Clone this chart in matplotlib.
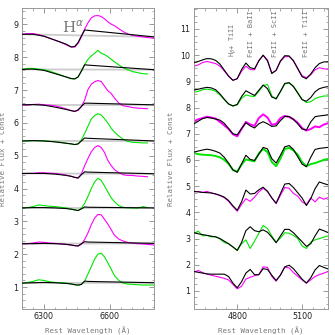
import numpy as np
import matplotlib
matplotlib.use("Agg")
import matplotlib.pyplot as plt
from matplotlib.ticker import MultipleLocator

## H-alpha panel (left): observed grid, model grid
ha_wave = [6200, 6225, 6250, 6275, 6300, 6325, 6350, 6375, 6400, 6420, 6440,
           6455, 6470, 6485, 6500, 6515, 6530, 6545, 6560, 6575, 6590, 6605,
           6620, 6640, 6660, 6680, 6700, 6725, 6750, 6770, 6800]
ha_model_wave = [6200, 6250, 6300, 6350, 6400, 6425, 6440, 6455, 6470, 6485, 6500, 6800]

# observed spectra, bottom -> top (shorter lists stop at 6770)
ha_obs = [
    [1.11, 1.14, 1.17, 1.22, 1.20, 1.16, 1.14, 1.13, 1.12, 1.10, 1.07, 1.05, 1.08, 1.18, 1.40, 1.62,
     1.85, 2.00, 2.03, 1.92, 1.74, 1.55, 1.35, 1.20, 1.12, 1.09, 1.08, 1.07, 1.06, 1.06, 1.06],
    [2.31, 2.32, 2.34, 2.37, 2.36, 2.34, 2.33, 2.32, 2.30, 2.28, 2.26, 2.25, 2.30, 2.45, 2.65, 2.90,
     3.10, 3.21, 3.20, 3.06, 2.92, 2.75, 2.58, 2.46, 2.40, 2.36, 2.34, 2.32, 2.31, 2.30, 2.28],
    [3.41, 3.42, 3.45, 3.50, 3.48, 3.46, 3.45, 3.43, 3.41, 3.38, 3.35, 3.33, 3.40, 3.55, 3.76, 4.00,
     4.20, 4.31, 4.25, 4.08, 3.90, 3.72, 3.60, 3.48, 3.43, 3.41, 3.41, 3.40, 3.45, 3.42],
    [4.45, 4.46, 4.46, 4.48, 4.48, 4.47, 4.46, 4.44, 4.41, 4.38, 4.34, 4.32, 4.45, 4.70, 4.92, 5.12,
     5.25, 5.31, 5.25, 5.10, 4.86, 4.70, 4.58, 4.48, 4.42, 4.40, 4.40, 4.38, 4.37, 4.36],
    [5.44, 5.45, 5.46, 5.46, 5.45, 5.44, 5.43, 5.41, 5.38, 5.36, 5.34, 5.36, 5.48, 5.68, 5.90, 6.12,
     6.22, 6.28, 6.24, 6.13, 6.00, 5.84, 5.72, 5.60, 5.50, 5.44, 5.41, 5.40, 5.39, 5.39],
    [6.55, 6.54, 6.56, 6.57, 6.55, 6.54, 6.52, 6.48, 6.43, 6.38, 6.35, 6.38, 6.50, 6.70, 7.02, 7.18,
     7.25, 7.29, 7.26, 7.12, 6.98, 6.90, 6.76, 6.60, 6.52, 6.50, 6.47, 6.45, 6.44, 6.43],
    [7.63, 7.66, 7.66, 7.64, 7.62, 7.58, 7.52, 7.46, 7.40, 7.35, 7.34, 7.40, 7.58, 7.78, 7.94, 8.04,
     8.12, 8.21, 8.12, 8.08, 8.02, 7.94, 7.86, 7.77, 7.68, 7.62, 7.57, 7.53, 7.50, 7.49],
    [8.70, 8.72, 8.72, 8.69, 8.64, 8.58, 8.52, 8.46, 8.38, 8.32, 8.31, 8.42, 8.62, 8.86, 9.05, 9.20,
     9.26, 9.27, 9.24, 9.17, 9.08, 9.01, 8.96, 8.87, 8.78, 8.71, 8.67, 8.64, 8.62, 8.60, 8.58],
]
ha_model = [
    [1.12, 1.13, 1.14, 1.13, 1.11, 1.09, 1.07, 1.06, 1.08, 1.18, 1.17, 1.13],
    [2.32, 2.32, 2.33, 2.32, 2.30, 2.28, 2.26, 2.25, 2.32, 2.38, 2.37, 2.33],
    [3.41, 3.42, 3.42, 3.41, 3.39, 3.37, 3.35, 3.33, 3.38, 3.44, 3.43, 3.41],
    [4.46, 4.46, 4.46, 4.44, 4.40, 4.37, 4.34, 4.32, 4.42, 4.51, 4.50, 4.45],
    [5.45, 5.46, 5.45, 5.42, 5.38, 5.36, 5.34, 5.36, 5.45, 5.54, 5.53, 5.45],
    [6.55, 6.56, 6.54, 6.48, 6.41, 6.37, 6.35, 6.40, 6.50, 6.60, 6.60, 6.55],
    [7.63, 7.64, 7.60, 7.50, 7.40, 7.35, 7.34, 7.40, 7.58, 7.77, 7.76, 7.62],
    [8.70, 8.70, 8.64, 8.52, 8.40, 8.31, 8.33, 8.45, 8.65, 8.83, 8.82, 8.62],
]

## H-beta / FeII panel (right), 20 A grid
hb_wave = list(range(4600, 5221, 20))
hb_obs = [
    [1.72, 1.78, 1.70, 1.64, 1.60, 1.56, 1.52, 1.48, 1.42, 1.25, 1.08, 1.18, 1.45, 1.52, 1.58, 1.62,
     1.92, 1.90, 1.55, 1.37, 1.62, 1.90, 1.88, 1.70, 1.56, 1.42, 1.30, 1.42, 1.55, 1.62, 1.68, 1.74],
    [3.20, 3.28, 3.10, 3.12, 3.06, 3.08, 2.98, 2.85, 2.80, 2.68, 2.54, 2.80, 2.95, 2.62, 2.90, 3.20,
     3.50, 3.38, 3.10, 2.86, 3.02, 3.22, 3.20, 3.12, 3.00, 2.72, 2.62, 2.86, 2.95, 3.00, 3.05, 3.10],
    [4.78, 4.80, 4.76, 4.80, 4.74, 4.70, 4.64, 4.56, 4.42, 4.22, 4.04, 4.30, 4.52, 4.42, 4.58, 4.78,
     4.92, 4.80, 4.55, 4.33, 4.65, 4.95, 4.92, 4.72, 4.62, 4.40, 4.30, 4.55, 4.40, 4.58, 4.50, 4.56],
    [6.26, 6.22, 6.20, 6.19, 6.18, 6.15, 6.10, 6.00, 5.85, 5.62, 5.55, 5.82, 6.02, 5.98, 5.95, 6.25,
     6.42, 6.30, 5.92, 5.76, 6.05, 6.42, 6.46, 6.36, 6.20, 5.92, 5.76, 5.84, 5.88, 5.94, 6.00, 6.04],
    [7.48, 7.55, 7.60, 7.65, 7.62, 7.58, 7.45, 7.32, 7.18, 6.98, 6.90, 7.18, 7.45, 7.36, 7.30, 7.60,
     7.74, 7.62, 7.34, 7.38, 7.60, 7.68, 7.64, 7.55, 7.42, 7.22, 7.12, 7.18, 7.28, 7.25, 7.35, 7.40],
    [8.58, 8.62, 8.68, 8.70, 8.68, 8.62, 8.48, 8.30, 8.13, 8.06, 8.10, 8.35, 8.48, 8.44, 8.42, 8.62,
     8.84, 8.88, 8.45, 8.32, 8.60, 8.90, 8.94, 8.82, 8.58, 8.32, 8.19, 8.22, 8.34, 8.40, 8.44, 8.44],
    [9.58, 9.63, 9.72, 9.76, 9.72, 9.68, 9.58, 9.40, 9.20, 9.04, 9.10, 9.38, 9.58, 9.45, 9.44, 9.80,
     9.99, 9.82, 9.32, 9.42, 9.76, 9.94, 9.95, 9.80, 9.50, 9.22, 9.14, 9.25, 9.44, 9.52, 9.48, 9.46],
]
hb_model = [
    [1.74, 1.71, 1.68, 1.65, 1.64, 1.64, 1.64, 1.64, 1.55, 1.30, 1.12, 1.35, 1.68, 1.82, 1.62, 1.62,
     1.85, 1.82, 1.60, 1.40, 1.60, 1.92, 1.98, 1.85, 1.65, 1.45, 1.30, 1.50, 1.80, 1.97, 1.90, 1.84],
    [3.22, 3.18, 3.15, 3.12, 3.09, 3.06, 3.00, 2.90, 2.80, 2.68, 2.55, 2.85, 3.30, 3.45, 3.30, 3.26,
     3.33, 3.24, 3.05, 2.84, 3.10, 3.35, 3.35, 3.22, 3.05, 2.88, 2.70, 2.80, 3.10, 3.36, 3.30, 3.23],
    [4.80, 4.78, 4.76, 4.75, 4.74, 4.70, 4.65, 4.58, 4.45, 4.25, 4.08, 4.40, 4.85, 4.70, 4.72, 4.86,
     4.96, 4.80, 4.55, 4.35, 4.72, 5.08, 5.10, 4.95, 4.75, 4.55, 4.26, 4.52, 4.90, 5.16, 5.10, 5.05],
    [6.30, 6.34, 6.38, 6.41, 6.38, 6.33, 6.26, 6.10, 5.88, 5.62, 5.53, 5.85, 6.18, 6.02, 5.98, 6.22,
     6.48, 6.42, 6.05, 5.88, 6.18, 6.50, 6.55, 6.40, 6.12, 5.84, 5.74, 6.10, 6.40, 6.44, 6.46, 6.48],
    [7.38, 7.48, 7.58, 7.62, 7.60, 7.56, 7.52, 7.40, 7.20, 7.00, 6.96, 7.20, 7.42, 7.30, 7.22, 7.38,
     7.46, 7.38, 7.28, 7.30, 7.50, 7.66, 7.66, 7.55, 7.38, 7.18, 7.14, 7.45, 7.65, 7.68, 7.70, 7.72],
    [8.67, 8.70, 8.74, 8.77, 8.75, 8.68, 8.52, 8.32, 8.14, 8.06, 8.12, 8.42, 8.64, 8.55, 8.46, 8.66,
     8.86, 8.72, 8.40, 8.34, 8.62, 8.92, 8.95, 8.80, 8.55, 8.30, 8.24, 8.38, 8.60, 8.72, 8.77, 8.80],
    [9.72, 9.76, 9.82, 9.87, 9.86, 9.80, 9.66, 9.43, 9.20, 9.04, 9.10, 9.45, 9.70, 9.52, 9.48, 9.78,
     10.0, 9.78, 9.30, 9.42, 9.78, 9.98, 9.97, 9.78, 9.48, 9.18, 9.10, 9.28, 9.52, 9.68, 9.74, 9.75],
]
hb_noisy = [3, 4]  # these two look fuzzy in the figure

line_labels = [r"H$_\beta$+ TiII", "FeII + BaII", "FeII + ScII", "FeII + TiII"]
line_label_x = [4780, 4866, 4975, 5120]

MAGENTA = "#ff00ff"
GREEN = "#00e600"
GREY = "#777777"


def style_axes(ax, xmaj, ymin_step):
    ax.xaxis.set_major_locator(MultipleLocator(xmaj))
    ax.xaxis.set_minor_locator(MultipleLocator(50))
    ax.yaxis.set_major_locator(MultipleLocator(1))
    ax.yaxis.set_minor_locator(MultipleLocator(ymin_step))
    ax.tick_params(which="both", direction="in", top=True, right=True,
                   colors="#888888", labelcolor="#222222", labelsize=5.8, pad=2.5)
    ax.tick_params(which="major", length=3.5, width=0.6)
    ax.tick_params(which="minor", length=1.8, width=0.5)
    for s in ax.spines.values():
        s.set_color("#999999")
        s.set_linewidth(0.7)
    ax.set_xlabel(u"Rest Wavelength (\u00c5)", family="DejaVu Sans Mono",
                  fontsize=5.3, color=GREY)
    ax.set_ylabel("Relative Flux + Const", family="DejaVu Sans Mono",
                  fontsize=5.3, color=GREY)


fig = plt.figure(figsize=(3.35, 3.35), dpi=100)
ax1 = fig.add_axes([22 / 335, 26 / 335, 132 / 335, 301 / 335])
ax2 = fig.add_axes([194 / 335, 26 / 335, 134 / 335, 301 / 335])

## left panel
for i in range(len(ha_obs)):
    col = GREEN if i % 2 == 0 else MAGENTA
    m = ha_model[i]
    ax1.plot([ha_model_wave[0], ha_model_wave[-1]], [m[0], m[-1]],
             color="#cccccc", lw=1.3, zorder=1)
    f = ha_obs[i]
    ax1.plot(ha_wave[:len(f)], f, color=col, lw=0.8, zorder=2)
    ax1.plot(ha_model_wave, m, color="black", lw=0.8, zorder=3)

ax1.text(6383, 8.75, r"H$^{\alpha}$", family="DejaVu Serif", fontsize=11,
         color=GREY)
ax1.set_xlim(6200, 6800)
ax1.set_ylim(0.33, 9.5)
style_axes(ax1, 300, 0.2)
ax1.xaxis.set_label_coords(0.5, -0.06)
ax1.yaxis.set_label_coords(-0.12, 0.5)

## right panel
for i in range(len(hb_obs)):
    col = MAGENTA if i % 2 == 0 else GREEN
    lw = 1.4 if i in hb_noisy else 0.8
    ax2.plot(hb_wave, hb_obs[i], color=col, lw=lw, zorder=2)
    ax2.plot(hb_wave, hb_model[i], color="black", lw=0.8, zorder=3)

for lab, x in zip(line_labels, line_label_x):
    ax2.text(x, 9.92, lab, rotation=90, ha="center", va="bottom",
             family="DejaVu Sans Mono", fontsize=5, color=GREY)

ax2.set_xlim(4600, 5220)
ax2.set_ylim(0.31, 11.8)
style_axes(ax2, 300, 0.25)
ax2.xaxis.set_label_coords(0.5, -0.06)
ax2.yaxis.set_label_coords(-0.15, 0.5)

fig.savefig("out.png", dpi=100)
